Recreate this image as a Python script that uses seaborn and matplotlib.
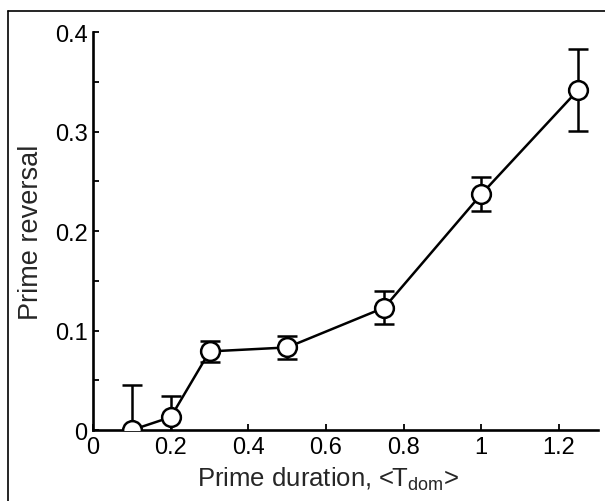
import seaborn as sns
import matplotlib.pyplot as plt
import pandas as pd
from matplotlib.lines import Line2D
from matplotlib.ticker import MultipleLocator

# valores
duracion = [0.1, 0.2, 0.3, 0.5, 0.75, 1.0, 1.25]
reversal = [0.0, 0.013, 0.079, 0.083, 0.123, 0.237, 0.342]
error = [0.045, 0.021, 0.0105, 0.0115, 0.0167, 0.0168, 0.0414]

df = pd.DataFrame({"duracion": duracion, "reversal": reversal, "error": error})

sns.set_style("ticks")
plt.rcParams["font.family"] = ["Liberation Sans", "DejaVu Sans"]

fig = plt.figure(figsize=(6.05, 5.02), dpi=100)
ax = fig.add_axes([0.154, 0.1414, 0.834, 0.7928])

ax.errorbar(df["duracion"], df["reversal"], yerr=df["error"], fmt="none",
            ecolor="black", elinewidth=1.8, capsize=7, capthick=1.8, zorder=2)
sns.lineplot(data=df, x="duracion", y="reversal", ax=ax, color="black",
             linewidth=1.8, marker="o", markersize=13.5, markerfacecolor="white",
             markeredgecolor="black", markeredgewidth=1.8, zorder=3)

ax.set_xlim(0, 1.3)
ax.set_ylim(0, 0.4)
ax.xaxis.set_major_locator(MultipleLocator(0.2))
ax.yaxis.set_major_locator(MultipleLocator(0.1))
ax.yaxis.set_minor_locator(MultipleLocator(0.05))
ax.set_xticks([0, 0.2, 0.4, 0.6, 0.8, 1.0, 1.2])
ax.set_xticklabels(["0", "0.2", "0.4", "0.6", "0.8", "1", "1.2"])
ax.set_yticks([0, 0.1, 0.2, 0.3, 0.4])
ax.set_yticklabels(["0", "0.1", "0.2", "0.3", "0.4"])
ax.tick_params(which="both", direction="in", length=4, width=1.3,
               labelsize=17, pad=4, colors="black")

sns.despine(ax=ax)
for s in ["left", "bottom"]:
    ax.spines[s].set_linewidth(1.9)
    ax.spines[s].set_color("black")

ax.set_xlabel("Prime duration, <T$_{\\mathregular{dom}}$>", fontsize=18.5, labelpad=5, x=0.465)
ax.set_ylabel("Prime reversal", fontsize=19.5, labelpad=8)

# marco de la figura (solo izquierda y arriba)
fig.add_artist(Line2D([8 / 605, 8 / 605], [0, 1 - 12 / 502], transform=fig.transFigure,
                      color="black", linewidth=1.2))
fig.add_artist(Line2D([8 / 605, 1], [1 - 12 / 502, 1 - 12 / 502], transform=fig.transFigure,
                      color="black", linewidth=1.2))

fig.savefig("out.png", dpi=100)
